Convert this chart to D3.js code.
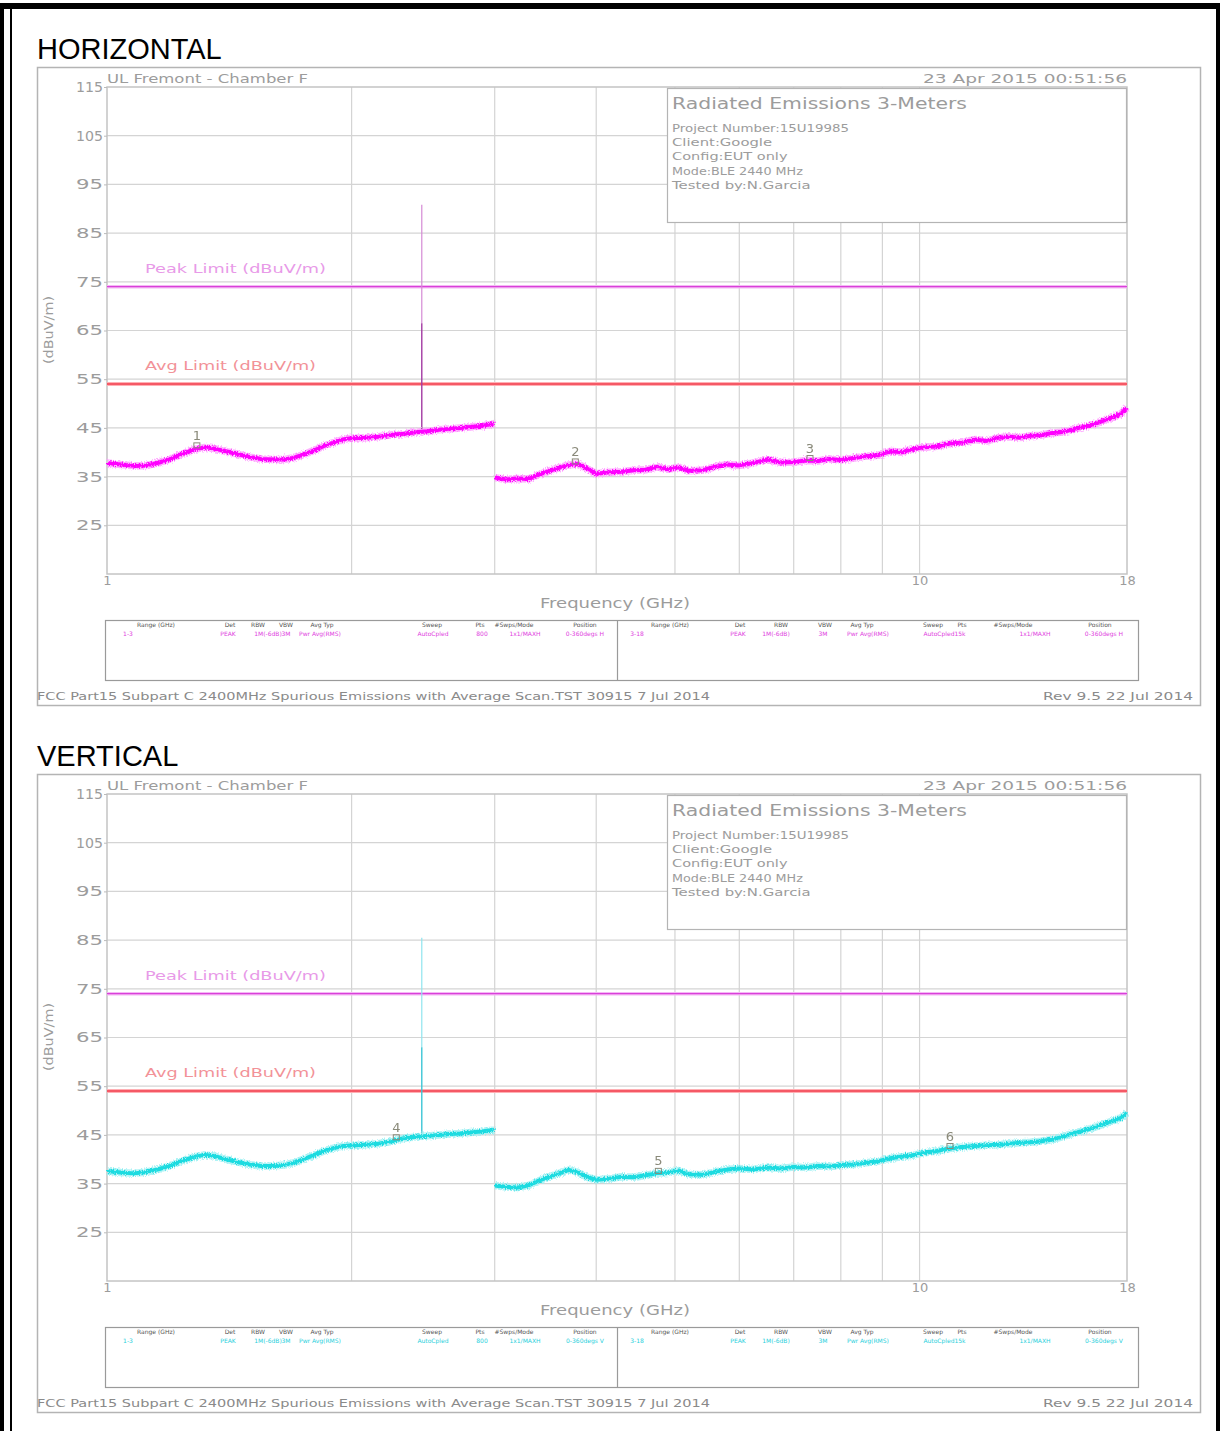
<!DOCTYPE html>
<html>
  <body style="margin:0;background:#fff">
    <script src="https://d3js.org/d3.v7.min.js"></script>
    <script type="text/javascript">
      const width = 1220;
      const height = 1431;

      // axis values
      const dbTicks = [115, 105, 95, 85, 75, 65, 55, 45, 35, 25];
      const freqLabels = [1, 10, 18];
      const freqGrid = [2, 3, 4, 5, 6, 7, 8, 9, 10];
      const peakLimit = 74;
      const avgLimit = 54;

      // sweep frequencies (GHz)
      const seg1Freq = [1.00, 1.04, 1.08, 1.12, 1.16, 1.20, 1.24, 1.28, 1.32, 1.36, 1.40, 1.45, 1.50, 1.55, 1.60, 1.65, 1.70, 1.75,
        1.80, 1.85, 1.90, 1.95, 2.00, 2.08, 2.16, 2.24, 2.32, 2.40, 2.48, 2.56, 2.64, 2.72, 2.80, 2.88, 2.96, 3.00];
      const seg2Freq = [3.00, 3.10, 3.20, 3.30, 3.40, 3.50, 3.60, 3.70, 3.80, 3.90, 4.00, 4.15, 4.30, 4.45, 4.60, 4.75, 4.90, 5.05,
        5.20, 5.40, 5.60, 5.80, 6.00, 6.25, 6.50, 6.75, 7.00, 7.25, 7.50, 7.75, 8.00, 8.30, 8.60, 8.90, 9.20, 9.50, 9.80, 10.1,
        10.5, 10.9, 11.3, 11.7, 12.1, 12.5, 12.9, 13.3, 13.7, 14.1, 14.5, 14.9, 15.3, 15.7, 16.1, 16.5, 16.9, 17.3, 17.7, 18.0];

      // levels (dBuV/m)
      const horizSeg1 = [37.8, 37.5, 37.2, 37.3, 37.9, 38.7, 39.7, 40.6, 41.0, 40.7, 40.2, 39.6, 39.0, 38.6, 38.5, 38.5, 38.9, 39.6,
        40.4, 41.3, 42.0, 42.6, 42.9, 43.0, 43.2, 43.6, 43.8, 44.1, 44.3, 44.6, 44.8, 45.0, 45.2, 45.4, 45.7, 45.9];
      const horizSeg2 = [34.8, 34.4, 34.6, 34.5, 35.4, 36.2, 36.8, 37.4, 37.6, 36.6, 35.6, 35.9, 36.0, 36.3, 36.4, 37.0, 36.5, 36.9,
        36.2, 36.3, 37.0, 37.5, 37.3, 37.8, 38.5, 37.9, 38.0, 38.3, 38.2, 38.6, 38.4, 38.8, 39.2, 39.4, 40.2, 40.0, 40.6, 41.0,
        41.2, 41.8, 42.0, 42.6, 42.3, 43.0, 43.2, 43.0, 43.4, 43.5, 43.9, 44.1, 44.5, 45.0, 45.4, 45.9, 46.6, 47.2, 47.9, 49.2];
      const vertSeg1 = [37.6, 37.3, 37.1, 37.4, 38.0, 38.8, 39.7, 40.5, 40.9, 40.6, 40.0, 39.4, 38.9, 38.6, 38.6, 38.8, 39.3, 40.1,
        40.9, 41.7, 42.3, 42.7, 42.8, 43.0, 43.2, 43.7, 44.3, 44.6, 44.8, 45.0, 45.2, 45.3, 45.5, 45.7, 45.9, 46.0];
      const vertSeg2 = [34.6, 34.3, 34.2, 34.6, 35.6, 36.4, 37.1, 37.8, 37.3, 36.3, 35.8, 36.0, 36.4, 36.3, 36.7, 37.1, 37.3, 37.7,
        36.9, 36.8, 37.4, 37.9, 38.1, 37.9, 38.3, 38.1, 38.4, 38.3, 38.6, 38.5, 38.8, 38.9, 39.3, 39.6, 40.2, 40.5, 40.8, 41.3,
        41.7, 42.2, 42.5, 42.7, 42.9, 43.0, 43.2, 43.4, 43.5, 43.7, 44.0, 44.5, 45.1, 45.6, 46.1, 46.7, 47.3, 47.9, 48.5, 49.5];

      // carrier spike: [freq, base, avg, peak]
      const horizSpike = [2.44, 44.2, 66.5, 90.8];
      const vertSpike = [2.44, 44.6, 63.0, 85.5];

      // markers: [label, freq, level]
      const horizMarkers = [[1, 1.29, 40.9], [2, 3.77, 37.6], [3, 7.33, 38.3]];
      const vertMarkers = [[4, 2.27, 44.0], [5, 4.77, 37.1], [6, 10.9, 42.2]];

      const infoLines = ['Project Number:15U19985', 'Client:Google', 'Config:EUT only', 'Mode:BLE 2440 MHz', 'Tested by:N.Garcia'];
      const settingsHeader = ['Range (GHz)', 'Det', 'RBW', 'VBW', 'Avg Typ', 'Sweep', 'Pts', '#Swps/Mode', 'Position'];
      const horizSettingsA = ['1-3', 'PEAK', '1M(-6dB)', '3M', 'Pwr Avg(RMS)', 'AutoCpled', '800', '1x1/MAXH', '0-360degs H'];
      const horizSettingsB = ['3-18', 'PEAK', '1M(-6dB)', '3M', 'Pwr Avg(RMS)', 'AutoCpled', '15k', '1x1/MAXH', '0-360degs H'];
      const vertSettingsA = ['1-3', 'PEAK', '1M(-6dB)', '3M', 'Pwr Avg(RMS)', 'AutoCpled', '800', '1x1/MAXH', '0-360degs V'];
      const vertSettingsB = ['3-18', 'PEAK', '1M(-6dB)', '3M', 'Pwr Avg(RMS)', 'AutoCpled', '15k', '1x1/MAXH', '0-360degs V'];

      const plot = { left: 107, right: 1127, top: 87, bottom: 574 };
      const textFont = '"DejaVu Sans", sans-serif';
      const greyText = '#9c9c9c';

      const svg = d3.select('body')
        .append('svg')
        .attr('width', width)
        .attr('height', height)
        .style('display', 'block');

      // rough edge for the analyser trace
      const fuzz = svg.append('defs').append('filter')
        .attr('id', 'fuzz')
        .attr('x', '-2%').attr('y', '-20%').attr('width', '104%').attr('height', '140%');
      fuzz.append('feTurbulence')
        .attr('type', 'fractalNoise').attr('baseFrequency', '0.9 0.6')
        .attr('numOctaves', 1).attr('seed', 4).attr('result', 'n');
      fuzz.append('feDisplacementMap')
        .attr('in', 'SourceGraphic').attr('in2', 'n').attr('scale', 5)
        .attr('xChannelSelector', 'R').attr('yChannelSelector', 'G');

      svg.append('rect').attr('width', width).attr('height', height).attr('fill', '#fff');

      // page frame
      svg.append('rect').attr('x', 0).attr('y', 3).attr('width', width).attr('height', 6).attr('fill', '#000');
      svg.append('rect').attr('x', 0).attr('y', 3).attr('width', 4).attr('height', height).attr('fill', '#000');
      svg.append('rect').attr('x', 10).attr('y', 9).attr('width', 2).attr('height', height).attr('fill', '#000');
      svg.append('rect').attr('x', 1216).attr('y', 3).attr('width', 4).attr('height', height).attr('fill', '#000');

      const x = d3.scaleLog().domain([1, 18]).range([plot.left, plot.right]);
      const y = d3.scaleLinear().domain([15, 115]).range([plot.bottom, plot.top]);

      drawPanel({
        top: 0, title: 'HORIZONTAL',
        seg1: horizSeg1, seg2: horizSeg2, spike: horizSpike, markers: horizMarkers,
        color: '#ff00ff', halo: '#ff9cff', spikeHi: '#d58ad5', spikeLo: '#a33aa3',
        settingsA: horizSettingsA, settingsB: horizSettingsB, settingsColor: '#e040e0',
      });
      drawPanel({
        top: 707, title: 'VERTICAL',
        seg1: vertSeg1, seg2: vertSeg2, spike: vertSpike, markers: vertMarkers,
        color: '#1cdbe0', halo: '#9cf0f2', spikeHi: '#8fe4ee', spikeLo: '#3cc6d6',
        settingsA: vertSettingsA, settingsB: vertSettingsB, settingsColor: '#2ad0dc',
      });

      function drawPanel(cfg) {
        const g = svg.append('g').attr('transform', `translate(0, ${cfg.top})`);

        g.append('text')
          .attr('x', 37).attr('y', 59)
          .attr('font-family', '"Liberation Sans", Arial, sans-serif')
          .attr('font-size', 29)
          .attr('fill', '#000')
          .text(cfg.title);

        g.append('rect')
          .attr('x', 37.5).attr('y', 67.5).attr('width', 1163).attr('height', 638)
          .attr('fill', 'none').attr('stroke', '#b4b4b4').attr('stroke-width', 1.5);

        // grid
        g.append('g').selectAll('line')
          .data(dbTicks.slice(1))
          .join('line')
          .attr('x1', plot.left).attr('x2', plot.right)
          .attr('y1', (d) => y(d)).attr('y2', (d) => y(d))
          .attr('stroke', '#d4d4d4').attr('stroke-width', 1.2);
        g.append('g').selectAll('line')
          .data(freqGrid)
          .join('line')
          .attr('x1', (d) => x(d)).attr('x2', (d) => x(d))
          .attr('y1', plot.top).attr('y2', plot.bottom)
          .attr('stroke', '#d4d4d4').attr('stroke-width', 1.2);

        g.append('rect')
          .attr('x', plot.left).attr('y', plot.top)
          .attr('width', plot.right - plot.left).attr('height', plot.bottom - plot.top)
          .attr('fill', 'none').attr('stroke', '#c4c4c4').attr('stroke-width', 1.5);

        // y axis
        const axisLeft = d3.axisLeft(y).tickValues(dbTicks).tickSize(3).tickPadding(1);
        const ay = g.append('g')
          .attr('transform', `translate(${plot.left}, 0)`)
          .call(axisLeft);
        ay.select('.domain').remove();
        ay.selectAll('line').attr('stroke', '#bbb');
        ay.selectAll('text')
          .attr('font-family', textFont).attr('font-size', 14).attr('fill', greyText)
          .attr('textLength', 27).attr('lengthAdjust', 'spacingAndGlyphs');

        // x axis
        const axisBottom = d3.axisBottom(x).tickValues(freqLabels).tickFormat(d3.format('d')).tickSize(0).tickPadding(2);
        const ax = g.append('g')
          .attr('transform', `translate(0, ${plot.bottom})`)
          .call(axisBottom);
        ax.select('.domain').remove();
        ax.selectAll('text')
          .attr('font-family', textFont).attr('font-size', 13).attr('fill', greyText);

        g.append('text')
          .attr('x', 53).attr('y', 330)
          .attr('transform', 'rotate(-90, 53, 330)')
          .attr('text-anchor', 'middle')
          .attr('font-family', textFont).attr('font-size', 12).attr('fill', greyText)
          .attr('textLength', 68).attr('lengthAdjust', 'spacingAndGlyphs')
          .text('(dBuV/m)');

        g.append('text')
          .attr('x', 540).attr('y', 608)
          .attr('font-family', textFont).attr('font-size', 14).attr('fill', greyText)
          .attr('textLength', 150).attr('lengthAdjust', 'spacingAndGlyphs')
          .text('Frequency (GHz)');

        // header texts
        g.append('text')
          .attr('x', 107).attr('y', 83)
          .attr('font-family', textFont).attr('font-size', 13).attr('fill', greyText)
          .attr('textLength', 201).attr('lengthAdjust', 'spacingAndGlyphs')
          .text('UL Fremont - Chamber F');
        g.append('text')
          .attr('x', 923).attr('y', 83)
          .attr('font-family', textFont).attr('font-size', 13).attr('fill', greyText)
          .attr('textLength', 204).attr('lengthAdjust', 'spacingAndGlyphs')
          .text('23 Apr 2015   00:51:56');

        // info box
        g.append('rect')
          .attr('x', 667.5).attr('y', 88.5).attr('width', 459).attr('height', 134)
          .attr('fill', '#fff').attr('stroke', '#b4b4b4').attr('stroke-width', 1.2);
        g.append('text')
          .attr('x', 672).attr('y', 109)
          .attr('font-family', textFont).attr('font-size', 15).attr('fill', greyText)
          .attr('textLength', 295).attr('lengthAdjust', 'spacingAndGlyphs')
          .text('Radiated Emissions 3-Meters');
        g.append('g').selectAll('text')
          .data(infoLines)
          .join('text')
          .attr('x', 672).attr('y', (d, i) => 132 + i * 14.2)
          .attr('font-family', textFont).attr('font-size', 11).attr('fill', greyText)
          .attr('textLength', (d) => d.length * 7.7).attr('lengthAdjust', 'spacingAndGlyphs')
          .text((d) => d);

        // limits
        g.append('line')
          .attr('x1', plot.left).attr('x2', plot.right)
          .attr('y1', y(peakLimit)).attr('y2', y(peakLimit))
          .attr('stroke', '#f4b8f4').attr('stroke-width', 3.5);
        g.append('line')
          .attr('x1', plot.left).attr('x2', plot.right)
          .attr('y1', y(peakLimit)).attr('y2', y(peakLimit))
          .attr('stroke', '#d940d9').attr('stroke-width', 1.4);
        g.append('line')
          .attr('x1', plot.left).attr('x2', plot.right)
          .attr('y1', y(avgLimit)).attr('y2', y(avgLimit))
          .attr('stroke', '#ffb0b4').attr('stroke-width', 4);
        g.append('line')
          .attr('x1', plot.left).attr('x2', plot.right)
          .attr('y1', y(avgLimit)).attr('y2', y(avgLimit))
          .attr('stroke', '#f23c4c').attr('stroke-width', 1.6);
        g.append('text')
          .attr('x', 145).attr('y', 273)
          .attr('font-family', textFont).attr('font-size', 13).attr('fill', '#e89ae8')
          .attr('textLength', 181).attr('lengthAdjust', 'spacingAndGlyphs')
          .text('Peak Limit (dBuV/m)');
        g.append('text')
          .attr('x', 145).attr('y', 370)
          .attr('font-family', textFont).attr('font-size', 13).attr('fill', '#f29298')
          .attr('textLength', 171).attr('lengthAdjust', 'spacingAndGlyphs')
          .text('Avg Limit (dBuV/m)');

        // spike
        const [sf, sBase, sAvg, sPeak] = cfg.spike;
        g.append('line')
          .attr('x1', x(sf)).attr('x2', x(sf)).attr('y1', y(sAvg)).attr('y2', y(sPeak))
          .attr('stroke', cfg.spikeHi).attr('stroke-width', 1.2);
        g.append('line')
          .attr('x1', x(sf)).attr('x2', x(sf)).attr('y1', y(sBase)).attr('y2', y(sAvg))
          .attr('stroke', cfg.spikeLo).attr('stroke-width', 1.4);

        // trace
        const line = d3.line().x((d) => x(d[0])).y((d) => y(d[1]));
        const segs = [
          seg1Freq.map((f, i) => [f, cfg.seg1[i]]),
          seg2Freq.map((f, i) => [f, cfg.seg2[i]]),
        ];
        const tr = g.append('g').attr('filter', 'url(#fuzz)');
        tr.selectAll('path.halo')
          .data(segs)
          .join('path')
          .attr('class', 'halo')
          .attr('d', line)
          .attr('fill', 'none').attr('stroke', cfg.halo).attr('stroke-width', 7.5)
          .attr('stroke-linejoin', 'round').attr('opacity', 0.8);
        tr.selectAll('path.core')
          .data(segs)
          .join('path')
          .attr('class', 'core')
          .attr('d', line)
          .attr('fill', 'none').attr('stroke', cfg.color).attr('stroke-width', 4)
          .attr('stroke-linejoin', 'round');

        // markers
        const mk = g.append('g').selectAll('g')
          .data(cfg.markers)
          .join('g')
          .attr('transform', (d) => `translate(${x(d[1])}, ${y(d[2])})`);
        mk.append('rect')
          .attr('x', -3).attr('y', -5).attr('width', 6).attr('height', 5)
          .attr('fill', 'none').attr('stroke', '#8a8a7a').attr('stroke-width', 1);
        mk.append('text')
          .attr('y', -8).attr('text-anchor', 'middle')
          .attr('font-family', textFont).attr('font-size', 13).attr('fill', '#8a8a7a')
          .text((d) => d[0]);

        // settings table
        g.append('rect')
          .attr('x', 105.5).attr('y', 620.5).attr('width', 1033).attr('height', 60)
          .attr('fill', 'none').attr('stroke', '#9a9a9a').attr('stroke-width', 1.2);
        g.append('line')
          .attr('x1', 617.5).attr('x2', 617.5).attr('y1', 620.5).attr('y2', 680.5)
          .attr('stroke', '#9a9a9a').attr('stroke-width', 1.2);
        const headA = [156, 230, 258, 286, 322, 432, 480, 514, 585];
        const headB = [670, 740, 781, 825, 862, 933, 962, 1013, 1100];
        const valA = [128, 228, 268, 286, 320, 433, 482, 525, 585];
        const valB = [637, 738, 776, 823, 868, 939, 960, 1035, 1104];
        [[headA, valA, cfg.settingsA], [headB, valB, cfg.settingsB]].forEach(([hx, vx, vals]) => {
          g.append('g').selectAll('text')
            .data(settingsHeader)
            .join('text')
            .attr('x', (d, i) => hx[i]).attr('y', 627)
            .attr('text-anchor', 'middle')
            .attr('font-family', textFont).attr('font-size', 6).attr('fill', '#555')
            .text((d) => d);
          g.append('g').selectAll('text')
            .data(vals)
            .join('text')
            .attr('x', (d, i) => vx[i]).attr('y', 636)
            .attr('text-anchor', 'middle')
            .attr('font-family', textFont).attr('font-size', 6).attr('fill', cfg.settingsColor)
            .text((d) => d);
        });

        // footer
        g.append('text')
          .attr('x', 37).attr('y', 700)
          .attr('font-family', textFont).attr('font-size', 10).attr('fill', '#8a8a8a')
          .attr('textLength', 673).attr('lengthAdjust', 'spacingAndGlyphs')
          .text('FCC Part15 Subpart C 2400MHz Spurious Emissions with Average Scan.TST 30915  7 Jul 2014');
        g.append('text')
          .attr('x', 1193).attr('y', 700).attr('text-anchor', 'end')
          .attr('font-family', textFont).attr('font-size', 10).attr('fill', '#8a8a8a')
          .attr('textLength', 150).attr('lengthAdjust', 'spacingAndGlyphs')
          .text('Rev 9.5 22 Jul 2014');
      }
    </script>
  </body>
</html>
